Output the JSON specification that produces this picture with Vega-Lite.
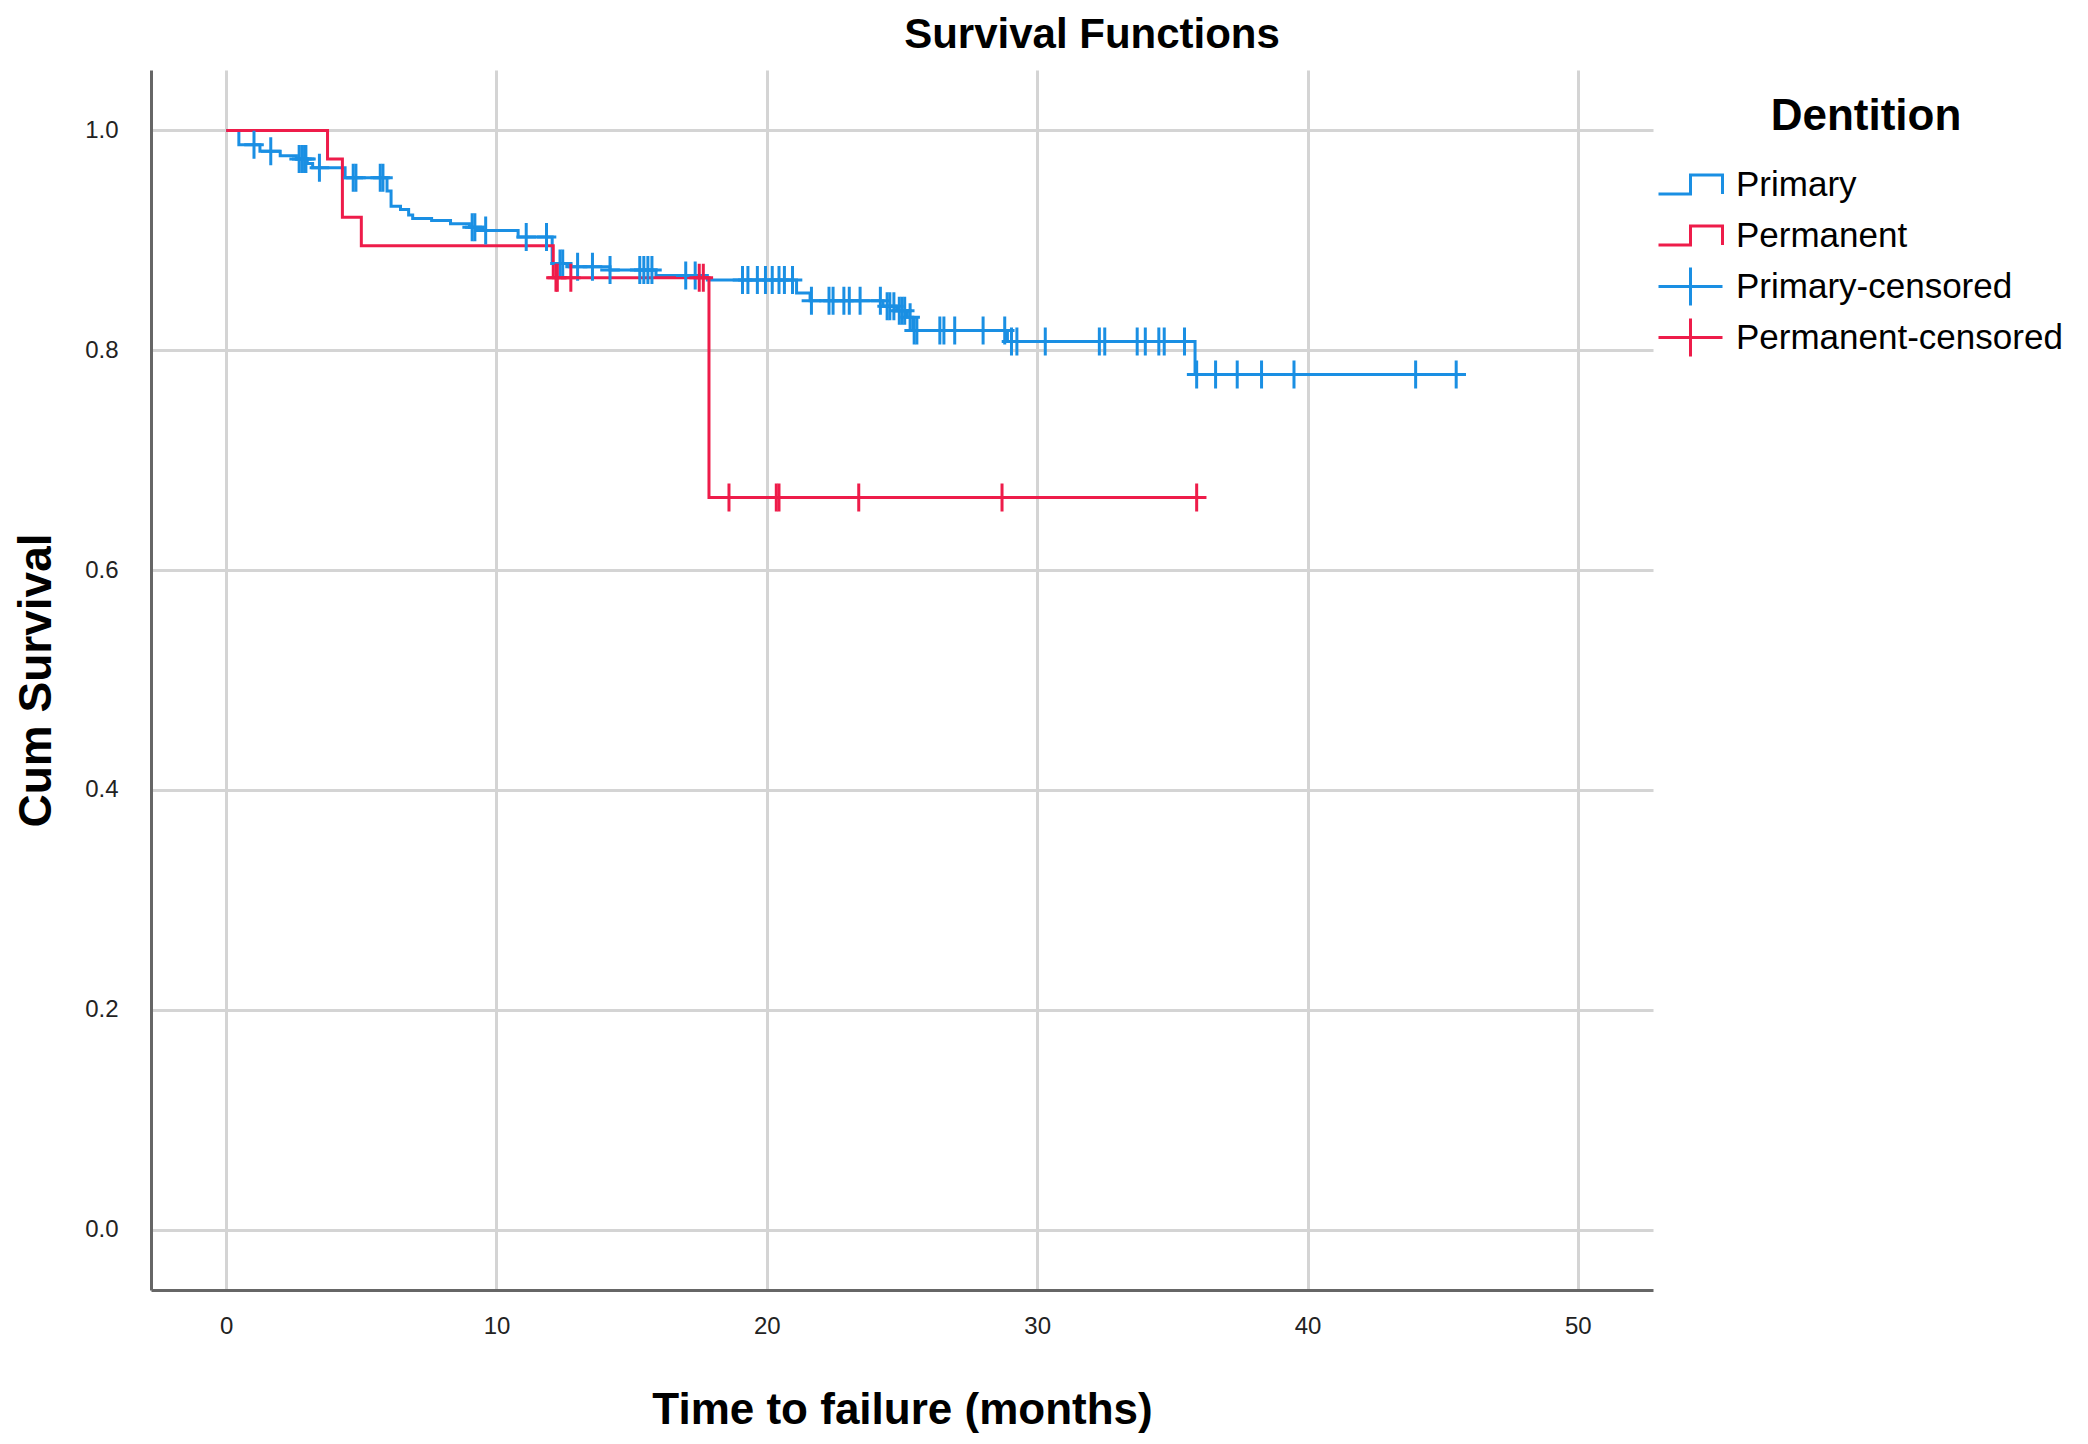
{
  "$schema": "https://vega.github.io/schema/vega-lite/v6.json",
  "width": 1502,
  "height": 1220,
  "autosize": {"type": "none"},
  "padding": {"left": 151, "top": 70, "right": 435, "bottom": 154},
  "background": "white",
  "title": {
    "text": "Survival Functions",
    "font": "Liberation Sans, Arial, sans-serif",
    "fontSize": 42,
    "fontWeight": "bold",
    "color": "black",
    "anchor": "middle",
    "frame": "group",
    "dx": 190,
    "dy": 43,
    "baseline": "alphabetic",
    "offset": 23
  },
  "datasets": {
    "steps": [
      {"series": "Primary", "time": 0, "surv": 1.0},
      {"series": "Primary", "time": 0.47, "surv": 0.987},
      {"series": "Primary", "time": 1.25, "surv": 0.981},
      {"series": "Primary", "time": 2.0, "surv": 0.977},
      {"series": "Primary", "time": 2.6, "surv": 0.974},
      {"series": "Primary", "time": 3.0, "surv": 0.970},
      {"series": "Primary", "time": 3.2, "surv": 0.966},
      {"series": "Primary", "time": 4.4, "surv": 0.957},
      {"series": "Primary", "time": 5.95, "surv": 0.945},
      {"series": "Primary", "time": 6.1, "surv": 0.931},
      {"series": "Primary", "time": 6.45, "surv": 0.928},
      {"series": "Primary", "time": 6.75, "surv": 0.923},
      {"series": "Primary", "time": 6.9, "surv": 0.920},
      {"series": "Primary", "time": 7.6, "surv": 0.918},
      {"series": "Primary", "time": 8.3, "surv": 0.915},
      {"series": "Primary", "time": 9.0, "surv": 0.912},
      {"series": "Primary", "time": 9.5, "surv": 0.909},
      {"series": "Primary", "time": 10.8, "surv": 0.903},
      {"series": "Primary", "time": 12.06, "surv": 0.879},
      {"series": "Primary", "time": 12.6, "surv": 0.876},
      {"series": "Primary", "time": 14.2, "surv": 0.873},
      {"series": "Primary", "time": 15.9, "surv": 0.868},
      {"series": "Primary", "time": 17.8, "surv": 0.864},
      {"series": "Primary", "time": 21.1, "surv": 0.852},
      {"series": "Primary", "time": 21.6, "surv": 0.845},
      {"series": "Primary", "time": 24.3, "surv": 0.840},
      {"series": "Primary", "time": 24.8, "surv": 0.836},
      {"series": "Primary", "time": 25.2, "surv": 0.830},
      {"series": "Primary", "time": 25.4, "surv": 0.818},
      {"series": "Primary", "time": 28.9, "surv": 0.808},
      {"series": "Primary", "time": 35.84, "surv": 0.778},
      {"series": "Primary", "time": 45.5, "surv": 0.778},
      {"series": "Permanent", "time": 0, "surv": 1.0},
      {"series": "Permanent", "time": 3.75, "surv": 0.974},
      {"series": "Permanent", "time": 4.3, "surv": 0.921},
      {"series": "Permanent", "time": 5.0, "surv": 0.895},
      {"series": "Permanent", "time": 12.1, "surv": 0.866},
      {"series": "Permanent", "time": 17.86, "surv": 0.666},
      {"series": "Permanent", "time": 35.9, "surv": 0.666}
    ],
    "cens": [
      {"series": "Primary-censored", "time": 1.03, "surv": 0.987},
      {"series": "Primary-censored", "time": 1.65, "surv": 0.981},
      {"series": "Primary-censored", "time": 2.7, "surv": 0.974},
      {"series": "Primary-censored", "time": 2.8, "surv": 0.974},
      {"series": "Primary-censored", "time": 2.9, "surv": 0.974},
      {"series": "Primary-censored", "time": 2.95, "surv": 0.974},
      {"series": "Primary-censored", "time": 3.45, "surv": 0.966},
      {"series": "Primary-censored", "time": 4.7, "surv": 0.957},
      {"series": "Primary-censored", "time": 4.8, "surv": 0.957},
      {"series": "Primary-censored", "time": 5.7, "surv": 0.957},
      {"series": "Primary-censored", "time": 5.8, "surv": 0.957},
      {"series": "Primary-censored", "time": 9.1, "surv": 0.912},
      {"series": "Primary-censored", "time": 9.2, "surv": 0.912},
      {"series": "Primary-censored", "time": 9.6, "surv": 0.909},
      {"series": "Primary-censored", "time": 11.1, "surv": 0.903},
      {"series": "Primary-censored", "time": 11.85, "surv": 0.903},
      {"series": "Primary-censored", "time": 12.35, "surv": 0.879},
      {"series": "Primary-censored", "time": 12.45, "surv": 0.879},
      {"series": "Primary-censored", "time": 13.0, "surv": 0.876},
      {"series": "Primary-censored", "time": 13.55, "surv": 0.876},
      {"series": "Primary-censored", "time": 14.2, "surv": 0.873},
      {"series": "Primary-censored", "time": 15.3, "surv": 0.873},
      {"series": "Primary-censored", "time": 15.45, "surv": 0.873},
      {"series": "Primary-censored", "time": 15.6, "surv": 0.873},
      {"series": "Primary-censored", "time": 15.75, "surv": 0.873},
      {"series": "Primary-censored", "time": 17.0, "surv": 0.868},
      {"series": "Primary-censored", "time": 17.35, "surv": 0.868},
      {"series": "Primary-censored", "time": 19.1, "surv": 0.864},
      {"series": "Primary-censored", "time": 19.3, "surv": 0.864},
      {"series": "Primary-censored", "time": 19.65, "surv": 0.864},
      {"series": "Primary-censored", "time": 19.95, "surv": 0.864},
      {"series": "Primary-censored", "time": 20.2, "surv": 0.864},
      {"series": "Primary-censored", "time": 20.45, "surv": 0.864},
      {"series": "Primary-censored", "time": 20.65, "surv": 0.864},
      {"series": "Primary-censored", "time": 20.95, "surv": 0.864},
      {"series": "Primary-censored", "time": 21.65, "surv": 0.845},
      {"series": "Primary-censored", "time": 22.3, "surv": 0.845},
      {"series": "Primary-censored", "time": 22.45, "surv": 0.845},
      {"series": "Primary-censored", "time": 22.85, "surv": 0.845},
      {"series": "Primary-censored", "time": 23.05, "surv": 0.845},
      {"series": "Primary-censored", "time": 23.45, "surv": 0.845},
      {"series": "Primary-censored", "time": 24.2, "surv": 0.845},
      {"series": "Primary-censored", "time": 24.45, "surv": 0.840},
      {"series": "Primary-censored", "time": 24.55, "surv": 0.840},
      {"series": "Primary-censored", "time": 24.7, "surv": 0.840},
      {"series": "Primary-censored", "time": 24.9, "surv": 0.836},
      {"series": "Primary-censored", "time": 25.0, "surv": 0.836},
      {"series": "Primary-censored", "time": 25.1, "surv": 0.836},
      {"series": "Primary-censored", "time": 25.3, "surv": 0.830},
      {"series": "Primary-censored", "time": 25.45, "surv": 0.818},
      {"series": "Primary-censored", "time": 25.55, "surv": 0.818},
      {"series": "Primary-censored", "time": 26.4, "surv": 0.818},
      {"series": "Primary-censored", "time": 26.55, "surv": 0.818},
      {"series": "Primary-censored", "time": 26.95, "surv": 0.818},
      {"series": "Primary-censored", "time": 28.0, "surv": 0.818},
      {"series": "Primary-censored", "time": 28.8, "surv": 0.818},
      {"series": "Primary-censored", "time": 29.05, "surv": 0.808},
      {"series": "Primary-censored", "time": 29.25, "surv": 0.808},
      {"series": "Primary-censored", "time": 30.3, "surv": 0.808},
      {"series": "Primary-censored", "time": 32.3, "surv": 0.808},
      {"series": "Primary-censored", "time": 32.5, "surv": 0.808},
      {"series": "Primary-censored", "time": 33.7, "surv": 0.808},
      {"series": "Primary-censored", "time": 34.0, "surv": 0.808},
      {"series": "Primary-censored", "time": 34.5, "surv": 0.808},
      {"series": "Primary-censored", "time": 34.7, "surv": 0.808},
      {"series": "Primary-censored", "time": 35.45, "surv": 0.808},
      {"series": "Primary-censored", "time": 35.9, "surv": 0.778},
      {"series": "Primary-censored", "time": 36.6, "surv": 0.778},
      {"series": "Primary-censored", "time": 37.4, "surv": 0.778},
      {"series": "Primary-censored", "time": 38.3, "surv": 0.778},
      {"series": "Primary-censored", "time": 39.5, "surv": 0.778},
      {"series": "Primary-censored", "time": 44.0, "surv": 0.778},
      {"series": "Primary-censored", "time": 45.5, "surv": 0.778},
      {"series": "Permanent-censored", "time": 12.2, "surv": 0.866},
      {"series": "Permanent-censored", "time": 12.25, "surv": 0.866},
      {"series": "Permanent-censored", "time": 12.75, "surv": 0.866},
      {"series": "Permanent-censored", "time": 17.5, "surv": 0.866},
      {"series": "Permanent-censored", "time": 17.65, "surv": 0.866},
      {"series": "Permanent-censored", "time": 18.6, "surv": 0.666},
      {"series": "Permanent-censored", "time": 20.35, "surv": 0.666},
      {"series": "Permanent-censored", "time": 20.45, "surv": 0.666},
      {"series": "Permanent-censored", "time": 23.4, "surv": 0.666},
      {"series": "Permanent-censored", "time": 28.7, "surv": 0.666},
      {"series": "Permanent-censored", "time": 35.9, "surv": 0.666}
    ]
  },
  "encoding": {
    "x": {
      "field": "time",
      "type": "quantitative",
      "scale": {"domain": [-2.78, 52.78], "nice": false, "zero": false},
      "axis": {"title": "Time to failure (months)", "values": [0, 10, 20, 30, 40, 50], "labelPadding": 24, "titlePadding": 50}
    },
    "y": {
      "field": "surv",
      "type": "quantitative",
      "scale": {"domain": [-0.055, 1.055], "nice": false, "zero": false},
      "axis": {"title": "Cum Survival", "values": [0, 0.2, 0.4, 0.6, 0.8, 1.0], "format": ".1f", "labelPadding": 33, "titlePadding": 24, "titleFontSize": 46}
    }
  },
  "layer": [
    {
      "data": {"name": "steps"},
      "transform": [{"filter": "datum.series === 'Primary'"}],
      "mark": {"type": "line", "interpolate": "step-after", "strokeWidth": 3},
      "encoding": {
        "color": {
          "field": "series",
          "type": "nominal",
          "scale": {
            "domain": ["Primary", "Permanent", "Primary-censored", "Permanent-censored"],
            "range": ["#1A8FE3", "#EE1C4A", "#1A8FE3", "#EE1C4A"]
          },
          "legend": {
            "title": "Dentition",
            "orient": "none",
            "legendX": 1518,
            "legendY": 25,
            "padding": 0,
            "titleFont": "Liberation Sans, Arial, sans-serif",
            "titleFontSize": 44,
            "titleFontWeight": "bold",
            "titleColor": "black",
            "titleAnchor": "middle",
            "titleBaseline": "top",
            "titlePadding": 24,
            "titleLimit": 0,
            "labelFont": "Liberation Sans, Arial, sans-serif",
            "labelFontSize": 35,
            "labelColor": "black",
            "labelOffset": 24,
            "labelLimit": 0,
            "symbolSize": 1600,
            "gridAlign": "all",
            "rowPadding": 0,
            "symbolStrokeWidth": 3,
            "encode": {
              "symbols": {
                "update": {
                  "shape": {"signal": "indexof(['Primary','Permanent'], datum.value) >= 0 ? 'M-1.6,0.48L0,0.48L0,-0.48L1.6,-0.48L1.6,0.48' : 'M-1.6,0L1.6,0M0,-0.95L0,0.95'"},
                  "fill": {"value": "transparent"},
                  "stroke": {"scale": "color", "field": "value"},
                  "strokeWidth": {"value": 3},
                  "opacity": {"value": 1}
                }
              }
            }
          }
        }
      }
    },
    {
      "data": {"name": "steps"},
      "transform": [{"filter": "datum.series === 'Permanent'"}],
      "mark": {"type": "line", "interpolate": "step-after", "strokeWidth": 3},
      "encoding": {
        "color": {"field": "series", "type": "nominal"}
      }
    },
    {
      "data": {"name": "cens"},
      "mark": {"type": "point", "shape": "M-0.7,0L0.7,0M0,-1L0,1", "filled": false, "size": 784, "strokeWidth": 3, "opacity": 1},
      "encoding": {
        "color": {"field": "series", "type": "nominal"}
      }
    }
  ],
  "config": {
    "view": {"stroke": null},
    "axis": {
      "grid": true,
      "gridColor": "#d4d4d4",
      "gridWidth": 3,
      "domainColor": "#666666",
      "domainWidth": 3,
      "ticks": false,
      "labelFont": "Liberation Sans, Arial, sans-serif",
      "labelFontSize": 24,
      "labelColor": "#222222",
      "titleFont": "Liberation Sans, Arial, sans-serif",
      "titleFontSize": 44,
      "titleFontWeight": "bold",
      "titleColor": "black"
    }
  }
}
